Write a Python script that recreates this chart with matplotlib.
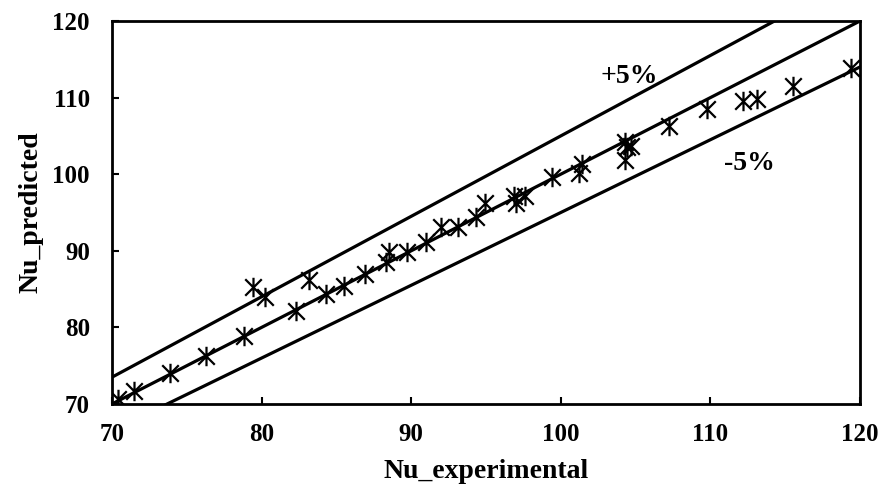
import matplotlib
matplotlib.use("Agg")
import matplotlib.pyplot as plt
import numpy as np
from matplotlib.path import Path

nu_exp = [70.4, 71.5, 73.9, 76.3, 78.8, 79.4, 80.2, 82.3, 83.2, 84.3, 85.5, 86.9,
          88.3, 88.5, 89.7, 91.0, 92.0, 93.1, 94.3, 94.9, 96.9, 97.0, 97.6, 99.4,
          101.2, 101.4, 104.3, 104.4, 104.3, 104.7, 107.2, 109.75, 112.2, 113.1,
          115.5, 119.4]
nu_pred = [70.6, 71.7, 74.0, 76.3, 78.85, 85.3, 84.0, 82.2, 86.2, 84.3, 85.4, 87.0,
           88.5, 89.8, 89.8, 91.1, 93.1, 93.1, 94.4, 96.3, 97.1, 96.3, 97.2, 99.6,
           100.2, 101.3, 104.2, 103.5, 101.8, 103.7, 106.3, 108.5, 109.6, 109.8,
           111.5, 113.9]
ticks = [70, 80, 90, 100, 110, 120]
line_x = [70, 120]
factors = [1.0, 1.05, 0.95]

plt.rcParams['font.family'] = ['Liberation Serif', 'DejaVu Serif']

fig = plt.figure(figsize=(8.81, 4.92), dpi=100)
ax = fig.add_axes([112/881, 1-404/492, (860-112)/881, (404-21)/492])

for f in factors:
    ax.plot(line_x, [v * f for v in line_x], color='black', lw=2.3, zorder=2)

star = Path([(0, -1), (0, 1), (-0.85, -0.85), (0.85, 0.85), (-0.85, 0.85), (0.85, -0.85)],
            [Path.MOVETO, Path.LINETO, Path.MOVETO, Path.LINETO, Path.MOVETO, Path.LINETO])
ax.plot(nu_exp, nu_pred, linestyle='none', marker=star, markersize=14,
        markeredgewidth=1.6, color='black', zorder=3)

ax.text(104.6, 112.8, '+5%', fontsize=20, fontweight='bold', ha='center', va='center')
ax.text(112.6, 101.4, '-5%', fontsize=20, fontweight='bold', ha='center', va='center')

ax.set_xlim(70, 120)
ax.set_ylim(70, 120)
ax.set_xticks(ticks)
ax.set_yticks(ticks)
ax.tick_params(direction='in', length=5, width=1.5, labelsize=18)
ax.tick_params(axis='y', pad=16)
ax.tick_params(axis='x', pad=14)
for lab in ax.get_xticklabels() + ax.get_yticklabels():
    lab.set_fontweight('bold')
for s in ax.spines.values():
    s.set_linewidth(2)
ax.set_xlabel('Nu_experimental', fontsize=20, fontweight='bold', labelpad=9)
ax.set_ylabel('Nu_predicted', fontsize=20, fontweight='bold', labelpad=6)

fig.savefig('out.png', dpi=100)
